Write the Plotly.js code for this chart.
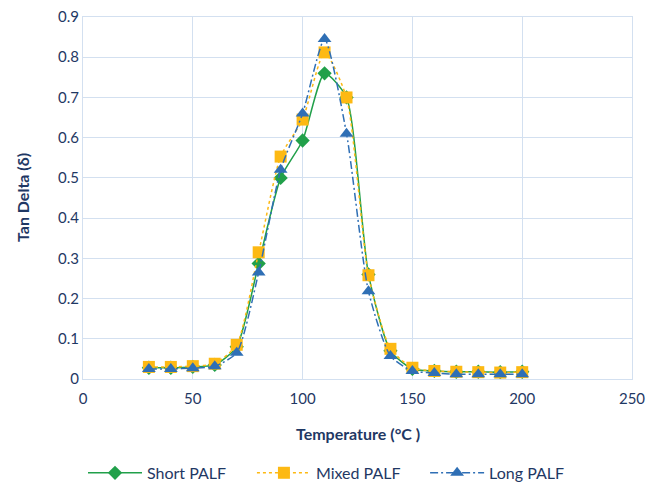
<!DOCTYPE html>
<html><head><meta charset="utf-8">
<script src="https://cdn.plot.ly/plotly-3.0.1.min.js"></script>
<style>html,body{margin:0;padding:0;background:#fff}#chart{width:651px;height:485px}</style>
</head><body><div id="chart"></div>
<script>
const temperature = [30,40,50,60,70,80,90,100,110,120,130,140,150,160,170,180,190,200];
const shortPALF = [0.028,0.028,0.030,0.035,0.080,0.287,0.500,0.593,0.760,0.700,0.260,0.070,0.025,0.020,0.018,0.018,0.017,0.018];
const mixedPALF = [0.030,0.030,0.032,0.038,0.085,0.315,0.553,0.645,0.812,0.700,0.258,0.075,0.028,0.020,0.018,0.017,0.016,0.017];
const longPALF  = [0.025,0.025,0.027,0.032,0.065,0.265,0.520,0.660,0.845,0.610,0.218,0.057,0.020,0.015,0.012,0.012,0.012,0.012];
const seriesNames = ['Short PALF','Mixed PALF','Long PALF'];
const xTicks = [0,50,100,150,200,250];
const yTicks = [0,0.1,0.2,0.3,0.4,0.5,0.6,0.7,0.8,0.9];
const xTitle = 'Temperature (°C )';
const yTitle = 'Tan Delta (δ)';

const navy = '#1f3864';
const grid = '#d3e0f0';
const font = 'Lato, "Open Sans", sans-serif';

const traces = [
  {x: temperature, y: shortPALF, name: seriesNames[0], mode: 'lines+markers', legend: 'legend',
   line: {color: '#21a04a', width: 1.5, shape: 'spline', smoothing: 0.6},
   marker: {symbol: 'diamond', size: 11, color: '#21a04a'}},
  {x: temperature, y: mixedPALF, name: seriesNames[1], mode: 'lines+markers', legend: 'legend2',
   line: {color: '#fdb913', width: 1.5, shape: 'spline', smoothing: 0.6, dash: '3px,3px'},
   marker: {symbol: 'square', size: 12, color: '#fdb913'}},
  {x: temperature, y: longPALF, name: seriesNames[2], mode: 'lines+markers', legend: 'legend3',
   line: {color: '#2f6fb5', width: 1.5, shape: 'spline', smoothing: 0.6, dash: '8px,3px,2px,3px'},
   marker: {symbol: 'triangle-up', size: 12, color: '#2f6fb5'}}
];

function legendAt(xPos) {
  return {orientation: 'h', xref: 'container', yref: 'container', x: xPos, xanchor: 'left',
          y: 0.025, yanchor: 'middle', bgcolor: 'rgba(0,0,0,0)',
          itemwidth: 54, font: {size: 16, color: navy, family: font}};
}

const layout = {
  width: 651, height: 485,
  margin: {l: 83, r: 19, t: 17, b: 106},
  paper_bgcolor: '#fff', plot_bgcolor: '#fff',
  font: {family: font, color: navy, size: 15},
  showlegend: true,
  legend: legendAt(0.1275),
  legend2: legendAt(0.387),
  legend3: legendAt(0.653),
  xaxis: {range: [0, 250], tickvals: xTicks, ticktext: xTicks.map(String), automargin: false,
          showgrid: true, gridcolor: grid, gridwidth: 1, zeroline: false,
          showline: true, linecolor: grid, linewidth: 1, mirror: true, ticks: '',
          ticklabelstandoff: 6, tickfont: {size: 15, color: navy}},
  yaxis: {range: [0, 0.9], tickvals: yTicks, ticktext: yTicks.map(v => v === 0 ? '0' : v.toFixed(1)), automargin: false,
          showgrid: true, gridcolor: grid, gridwidth: 1, zeroline: false,
          showline: true, linecolor: grid, linewidth: 1, mirror: true, ticks: '',
          tickfont: {size: 15, color: navy}},
  annotations: [
    {text: '<b>' + xTitle + '</b>', xref: 'paper', yref: 'paper', x: 0.5, y: -0.15,
     xanchor: 'center', yanchor: 'middle', showarrow: false, font: {size: 16, color: navy}},
    {text: '<b>' + yTitle + '</b>', xref: 'paper', yref: 'paper', x: -0.111, y: 0.5, textangle: -90,
     xanchor: 'center', yanchor: 'middle', showarrow: false, font: {size: 16, color: navy}}
  ]
};

Plotly.newPlot('chart', traces, layout, {displayModeBar: false, staticPlot: true});
</script>
</body></html>
